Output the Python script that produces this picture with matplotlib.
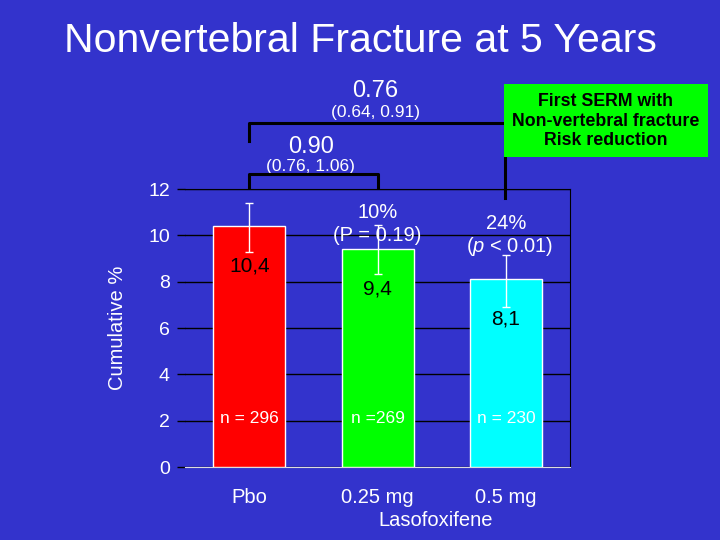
import matplotlib
matplotlib.use("Agg")
import matplotlib.pyplot as plt
from matplotlib.patches import Rectangle

categories = ["Pbo", "0.25 mg", "0.5 mg"]
values = [10.4, 9.4, 8.1]
err_low = [9.3, 8.35, 6.9]
err_high = [11.4, 10.45, 9.15]
value_labels = ["10,4", "9,4", "8,1"]
n_labels = ["n = 296", "n =269", "n = 230"]
bar_colors = ["#ff0000", "#00ff00", "#00ffff"]
yticks = [0, 2, 4, 6, 8, 10, 12]

BG = "#3333cc"
plt.rcParams['font.family'] = ['Liberation Sans', 'DejaVu Sans']
plt.rcParams['mathtext.fontset'] = 'custom'
plt.rcParams['mathtext.it'] = 'Liberation Sans:italic'
plt.rcParams['mathtext.rm'] = 'Liberation Sans'

fig = plt.figure(figsize=(7.2, 5.4), dpi=100, facecolor=BG)
ax = fig.add_axes([0.257, 0.135, 0.535, 0.515])
ax.set_facecolor(BG)

x = list(range(len(categories)))
ax.bar(x, values, width=0.56, color=bar_colors, edgecolor="white", linewidth=1, zorder=3)
lower = [v - l for v, l in zip(values, err_low)]
upper = [h - v for v, h in zip(values, err_high)]
ax.errorbar(x, values, yerr=[lower, upper], fmt="none", ecolor="white",
            elinewidth=1, capsize=3, capthick=1, zorder=4)

ax.set_xlim(-0.5, 2.5)
ax.set_ylim(0, 12)
ax.set_yticks(yticks)
ax.yaxis.grid(True, color="black", linewidth=1, zorder=0)
ax.set_axisbelow(True)
ax.tick_params(axis="y", colors="black", length=6, width=1, pad=5, labelcolor="white", labelsize=14)
ax.tick_params(axis="x", length=0, pad=15, labelcolor="white", labelsize=14.5)
ax.set_xticks(x)
ax.set_xticklabels(categories)
ax.spines["left"].set_visible(False)
ax.spines["right"].set_color("black")
ax.spines["top"].set_color("black")
ax.spines["bottom"].set_color("#dddddd")
ax.set_ylabel("Cumulative %", color="white", fontsize=14.5)
ax.yaxis.set_label_coords(-0.15, 0.5)

for i, (v, lab, n) in enumerate(zip(values, value_labels, n_labels)):
    ax.text(i, v - 1.72, lab, ha="center", va="center", color="black", fontsize=15, zorder=5)
    ax.text(i, 2.1, n, ha="center", va="center", color="white", fontsize=12.5, zorder=5)

ax.text(1, 11.0, "10%", ha="center", va="center", color="white", fontsize=14.5, zorder=5)
ax.text(1, 10.0, "(P = 0.19)", ha="center", va="center", color="white", fontsize=14.5, zorder=5)
ax.text(2, 10.5, "24%", ha="center", va="center", color="white", fontsize=14.5, zorder=5)
ax.text(2.03, 9.5, r"($\mathit{p}$ < 0.01)", ha="center", va="center", color="white",
        fontsize=14.5, zorder=5)

# brackets
kw = dict(color="black", linewidth=2.2, clip_on=False, zorder=6)
ax.plot([0, 0, 1, 1], [12.08, 12.63, 12.63, 12.08], **kw)
ax.plot([0, 0, 1.99], [14.07, 14.86, 14.86], **kw)
ax.plot([1.99, 1.99], [14.86, 11.61], **kw)

ax.text(0.98, 16.25, "0.76", ha="center", va="center", color="white", fontsize=17)
ax.text(0.98, 15.3, "(0.64, 0.91)", ha="center", va="center", color="white", fontsize=12.5)
ax.text(0.48, 13.8, "0.90", ha="center", va="center", color="white", fontsize=17)
ax.text(0.48, 12.95, "(0.76, 1.06)", ha="center", va="center", color="white", fontsize=12.5)

# green box
box = Rectangle((504/720, 1-157/540), 204/720, 73/540, transform=fig.transFigure,
                facecolor="#00ff00", edgecolor="none", zorder=7)
fig.patches.append(box)
fig.text(606/720, 1-121/540, "First SERM with\nNon-vertebral fracture\nRisk reduction",
         ha="center", va="center", color="black", fontsize=12.8, fontweight="bold",
         linespacing=1.2, zorder=8)

fig.text(0.5, 1-41/540, "Nonvertebral Fracture at 5 Years", ha="center", va="center",
         color="white", fontsize=29.5)
fig.text(436/720, 1-520/540, "Lasofoxifene", ha="center", va="center", color="white", fontsize=14.5)

fig.savefig("out.png", dpi=100, facecolor=BG)
